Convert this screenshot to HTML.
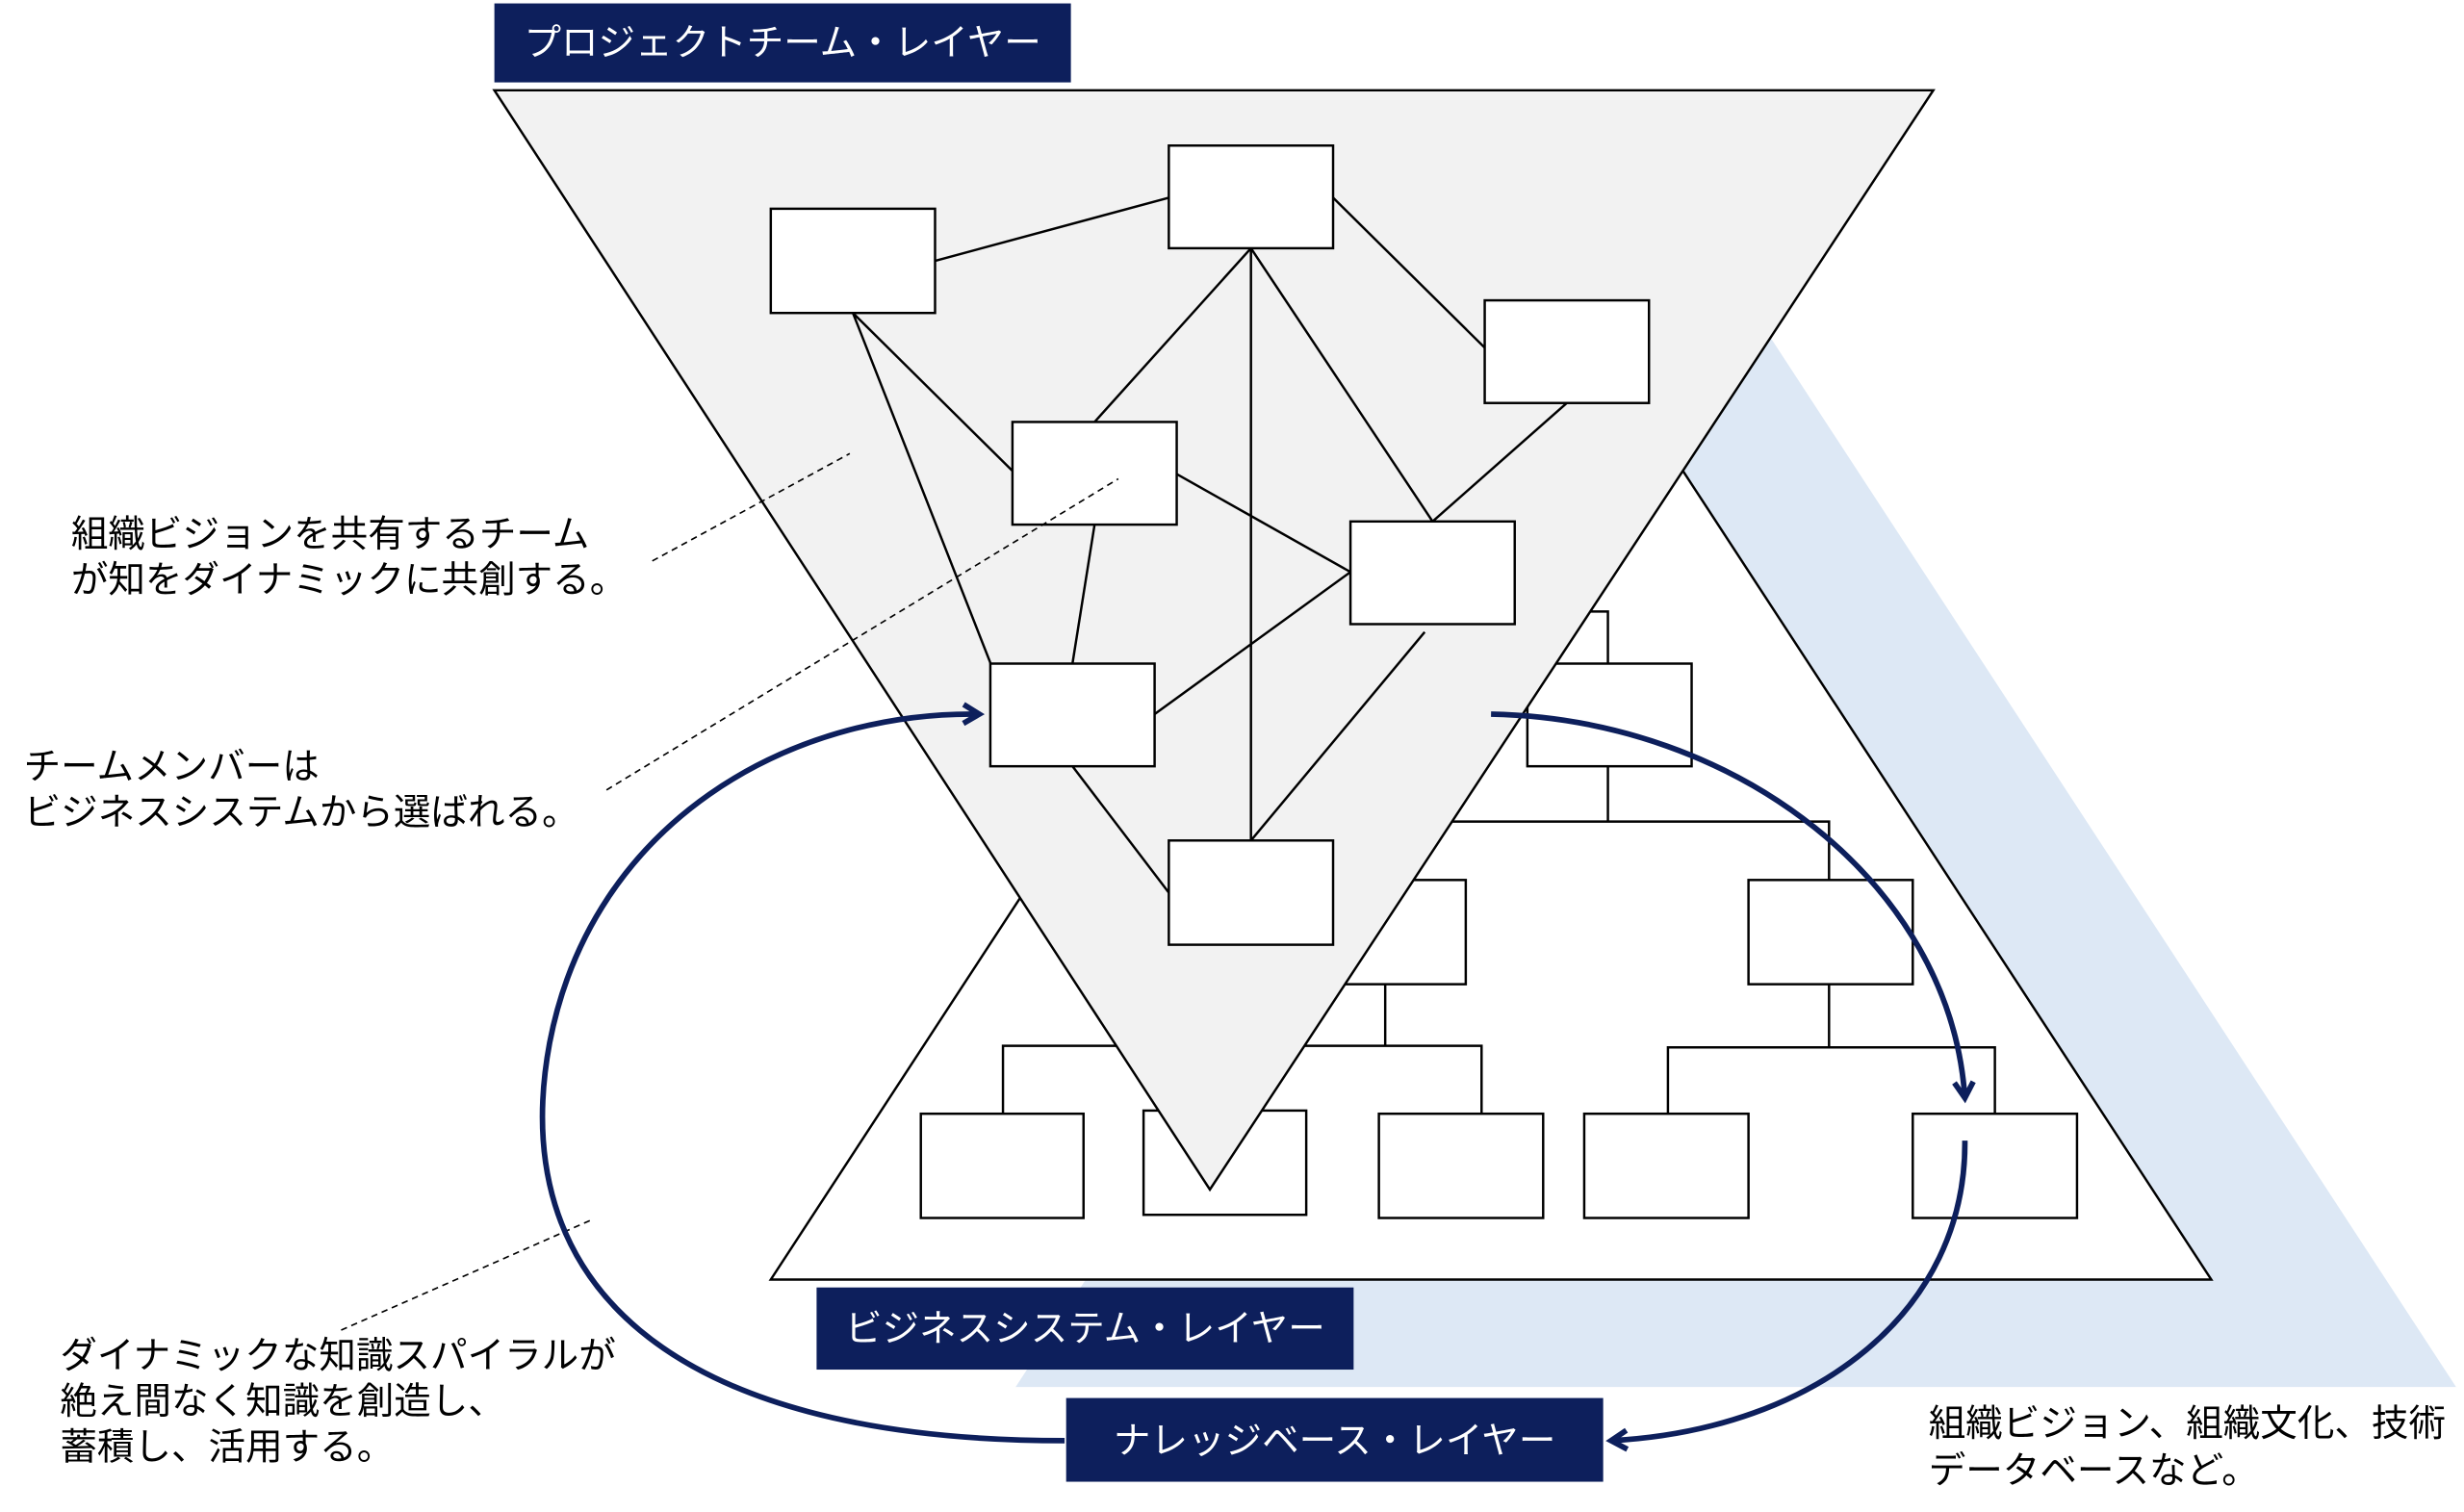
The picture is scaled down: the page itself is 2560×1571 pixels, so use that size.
<!DOCTYPE html>
<html><head><meta charset="utf-8"><style>
html,body{margin:0;padding:0;background:#fff;width:2560px;height:1571px;overflow:hidden}
svg{display:block}
text{font-family:"Liberation Sans","Noto Sans CJK JP",sans-serif}
</style></head><body>
<svg width="2560" height="1571" viewBox="0 0 1560 957" xmlns="http://www.w3.org/2000/svg">
<defs>
<marker id="ar" markerWidth="16" markerHeight="16" refX="12" refY="8" orient="auto" markerUnits="userSpaceOnUse">
<path d="M2,2 L12,8 L2,14" fill="none" stroke="#0d1f5c" stroke-width="3.5"/>
</marker>
</defs>
<polygon points="1099,180 1555,878 643,878" fill="#dde8f5"/>
<polygon points="944,112 1400,810 488,810" fill="#fff" stroke="#000" stroke-width="1.5"/>
<g fill="none" stroke="#000" stroke-width="1.5">
<polyline points="987,387 1018,387 1018,420"/>
<polyline points="1018,485 1018,520"/>
<polyline points="900,520 1158,520 1158,557"/>
<polyline points="877,623 877,662"/>
<polyline points="635,705 635,662 938,662 938,705"/>
<polyline points="1158,623 1158,663"/>
<polyline points="1056,705 1056,663 1263,663 1263,705"/>
</g>
<g fill="#fff" stroke="#000" stroke-width="1.5">
<rect x="967" y="420" width="104" height="65"/>
<rect x="825" y="557" width="103" height="66"/>
<rect x="1107" y="557" width="104" height="66"/>
<rect x="583" y="705" width="103" height="66"/>
<rect x="724" y="703" width="103" height="66"/>
<rect x="873" y="705" width="104" height="66"/>
<rect x="1003" y="705" width="104" height="66"/>
<rect x="1211" y="705" width="104" height="66"/>
</g>
<polygon points="313,57 1224,57 766,753" fill="#f2f2f2" stroke="#000" stroke-width="1.5"/>
<g stroke="#000" stroke-width="1.5" fill="none">
<line x1="592" y1="165" x2="740" y2="125"/>
<line x1="844" y1="125" x2="940" y2="220"/>
<line x1="792" y1="157" x2="693" y2="267"/>
<line x1="792" y1="157" x2="792" y2="532"/>
<line x1="792" y1="157" x2="907" y2="330"/>
<line x1="992" y1="255" x2="907" y2="330"/>
<line x1="540" y1="198" x2="641" y2="298"/>
<line x1="540" y1="198" x2="628" y2="422"/>
<line x1="745" y1="300" x2="855" y2="362"/>
<line x1="693" y1="332" x2="679" y2="420"/>
<line x1="731" y1="452" x2="855" y2="362"/>
<line x1="902" y1="400" x2="792" y2="532"/>
<line x1="679" y1="485" x2="740" y2="565"/>
</g>
<g fill="#fff" stroke="#000" stroke-width="1.5">
<rect x="488" y="132" width="104" height="66"/>
<rect x="740" y="92" width="104" height="65"/>
<rect x="940" y="190" width="104" height="65"/>
<rect x="641" y="267" width="104" height="65"/>
<rect x="855" y="330" width="104" height="65"/>
<rect x="627" y="420" width="104" height="65"/>
<rect x="740" y="532" width="104" height="66"/>
</g>
<g stroke="#000" stroke-width="1" stroke-dasharray="4,3">
<line x1="413" y1="355" x2="538" y2="287"/>
<line x1="384" y1="500" x2="708" y2="303"/>
<line x1="216" y1="842" x2="375" y2="772"/>
</g>
<g fill="none" stroke="#0d1f5c" stroke-width="3.5">
<path d="M674,912 C420,912 320,810 348,660 C375,520 500,450 620,452" marker-end="url(#ar)"/>
<path d="M944,452 C1100,455 1235,560 1244,695" marker-end="url(#ar)"/>
<path d="M1244,722 C1245,830 1150,905 1020,912" marker-end="url(#ar)"/>
</g>
<rect x="313" y="2" width="365" height="50" fill="#0d1f5c"/>
<text x="495.5" y="35" fill="#fff" font-size="23.5" text-anchor="middle">プロジェクトチーム・レイヤー</text>
<rect x="517" y="815" width="340" height="52" fill="#0d1f5c"/>
<text x="687" y="849" fill="#fff" font-size="23.5" text-anchor="middle">ビジネスシステム・レイヤー</text>
<rect x="675" y="885" width="340" height="53" fill="#0d1f5c"/>
<text x="845" y="920" fill="#fff" font-size="23.5" text-anchor="middle">ナレッジベース・レイヤー</text>
<g font-size="23.5" fill="#000">
<text x="45" y="346">組織ビジョンを共有するチーム</text>
<text x="45" y="375">が知をダイナミックに共創する。</text>
<text x="15" y="493">チームメンバーは</text>
<text x="15" y="522">ビジネスシステムから選ばれる。</text>
<text x="38" y="866">ダイナミックな知識スパイラルが</text>
<text x="38" y="895">絶え間なく知識を創造し、</text>
<text x="38" y="924">蓄積し、活用する。</text>
<text x="1221" y="909">組織ビジョン、組織文化、技術</text>
<text x="1221" y="939">データベースなど。</text>
</g>
</svg>
</body></html>
